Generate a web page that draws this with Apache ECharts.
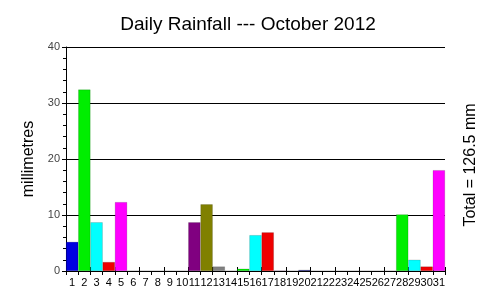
<!DOCTYPE html>
<html><head><meta charset="utf-8">
<script src="https://cdn.jsdelivr.net/npm/echarts@6/dist/echarts.min.js"></script>
<style>html,body{margin:0;padding:0;background:#fff}#c{width:500px;height:305px}</style>
</head><body><div id="c"></div>
<script>
const days = Array.from({length:31},(_,i)=>String(i+1));
const rainfall = [5.2,32.4,8.7,1.6,12.3,0,0,0,0,0,8.7,11.9,0.8,0,0.4,6.4,6.9,0.1,0,0.2,0,0,0,0,0,0,0,10.1,2.0,0.8,18.0];
const palette = ['#0000e0','#00ee00','#00ffff','#ee0000','#ff00ff','#ffff00','#000080','#008000','#008080','#800000','#800080','#808000','#808080'];
const yTicks = [0,10,20,30,40];
const totalText = 'Total = 126.5 mm';

const chart = echarts.init(document.getElementById('c'), null, {renderer:'canvas'});
const F = 'Liberation Sans, Arial, sans-serif';
chart.setOption({
  animation:false,
  backgroundColor:'#fff',
  title:{text:'Daily Rainfall --- October 2012', left:243, top:10, textAlign:'center',
    textStyle:{fontFamily:F, fontSize:19, fontWeight:'normal', color:'#000'}},
  graphic:[{type:'text', x:471, y:165, rotation:Math.PI/2,
    style:{text:totalText, font:'16px '+F, fill:'#000', align:'center', verticalAlign:'middle'}}],
  grid:{left:66, right:55, top:47, bottom:34},
  xAxis:[{type:'category', data:days, boundaryGap:true,
    axisLine:{lineStyle:{color:'#000', width:1}},
    axisTick:{show:true, length:4, lineStyle:{color:'#000'}},
    axisLabel:{fontFamily:F, fontSize:11, color:'#000', margin:6, interval:0}},
   {type:'category', data:days, position:'bottom', boundaryGap:true,
    axisLine:{show:false}, axisTick:{show:true, inside:true, length:4, lineStyle:{color:'#000'}},
    axisLabel:{show:false}}],
  yAxis:{type:'value', min:0, max:40, interval:10,
    name:'millimetres', nameLocation:'middle', nameGap:28, nameRotate:90,
    nameTextStyle:{fontFamily:F, fontSize:16, color:'#000'},
    axisLine:{show:true, lineStyle:{color:'#000'}},
    axisTick:{show:true, length:4, lineStyle:{color:'#000'}},
    minorTick:{show:true, splitNumber:5, length:3, lineStyle:{color:'#000'}},
    splitLine:{show:true, lineStyle:{color:'#000', width:1}},
    axisLabel:{fontFamily:F, fontSize:11, color:'#444', margin:6,
      formatter:v=>yTicks.includes(v)?String(v):''}},
  series:[{type:'bar', data:rainfall.map((v,i)=>({value:v, itemStyle:{color:palette[i%13]}})),
    barCategoryGap:'0%', barGap:'0%', itemStyle:{borderColor:'rgba(0,0,0,0.3)', borderWidth:0.5}}]
});
</script></body></html>
